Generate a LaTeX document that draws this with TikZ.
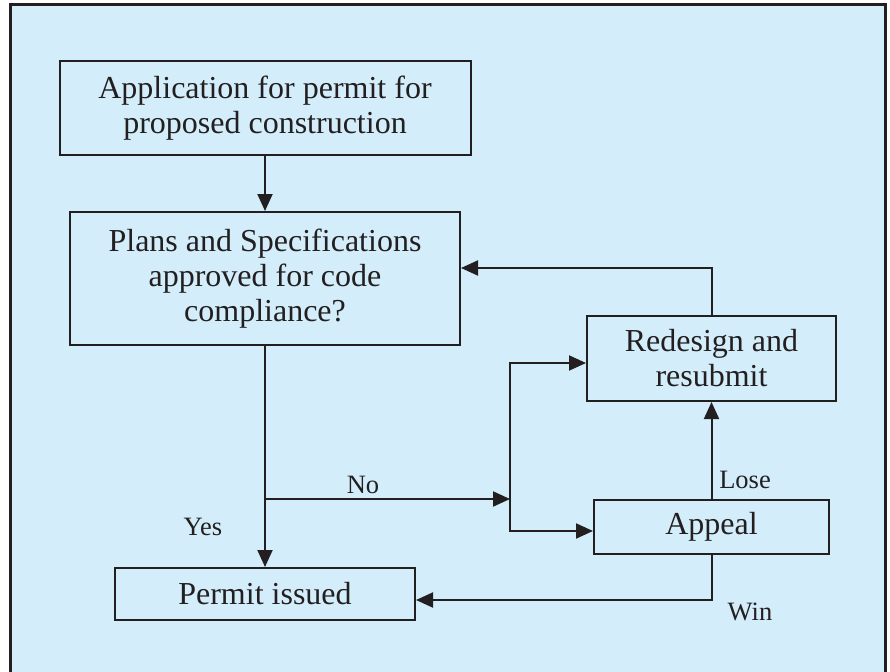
\documentclass[tikz,border=0pt]{standalone}
\usepackage{fontspec}
\setmainfont{Liberation Serif}
\usetikzlibrary{arrows.meta}
\definecolor{bg}{HTML}{D3EEFA}
\definecolor{ink}{HTML}{231F20}
\begin{document}
\begin{tikzpicture}[x=1pt,y=-1pt,
  box/.style={draw=ink, line width=2pt, fill=bg, align=center, font=\fontsize{32}{35}\selectfont, text=ink, inner sep=0pt},
  lab/.style={font=\fontsize{26.5}{30}\selectfont, text=ink, inner sep=0pt},
  arr/.style={draw=ink, line width=2pt, -{Triangle[length=17pt,width=15pt]}},
  ln/.style={draw=ink, line width=2pt}]
\useasboundingbox (0,0) rectangle (890,671);
\clip (0,0) rectangle (890,671);
\fill[white] (0,0) rectangle (890,671);
\draw[fill=bg, draw=ink, line width=3pt] (10,5) rectangle (885,720);

\node[box, minimum width=411pt, minimum height=94pt] (app) at (265,108) {Application for permit for\\proposed construction};
\node[box, minimum width=390pt, minimum height=133pt] (plans) at (265,278.5) {Plans and Specifications\\approved for code\\compliance?};
\node[box, minimum width=249pt, minimum height=85pt] (redesign) at (711.5,358.5) {Redesign and\\resubmit};
\node[box, minimum width=235pt, minimum height=54pt] (appeal) at (711.5,527) {Appeal};
\node[box, minimum width=300pt, minimum height=52pt] (permit) at (265,594) {Permit issued};

\coordinate (j1) at (265,499);
\coordinate (j2) at (510,499);

\draw[arr] (app.south) -- (plans.north);
\draw[arr] (plans.south) -- (permit.north);
\draw[arr] (j1) -- (j2);
\draw[arr] (j2) |- ([yshift=-4.5pt]redesign.west);
\draw[arr] (j2) |- ([yshift=-4pt]appeal.west);
\draw[arr] (redesign.north) |- ([yshift=10.5pt]plans.east);
\draw[arr] (appeal.north) -- (redesign.south);
\draw[arr] (appeal.south) |- ([yshift=-6pt]permit.east);

\node[lab] (no) at (363,485) {No};
\node[lab] (yes) at (203,527) {Yes};
\node[lab] (lose) at (745,480) {Lose};
\node[lab] (win) at (750,612) {Win};
\end{tikzpicture}
\end{document}
